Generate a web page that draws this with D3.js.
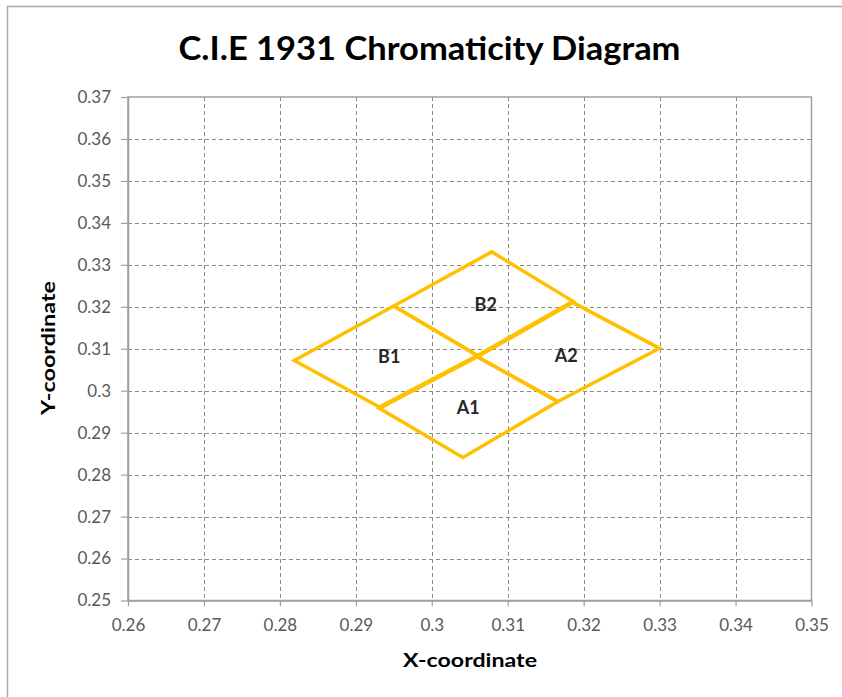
<!DOCTYPE html>
<html><head><meta charset="utf-8">
<script src="https://cdn.jsdelivr.net/npm/d3@7"></script>
<style>body{margin:0;background:#fff;} svg{display:block;}</style>
</head><body><svg id="c" width="842" height="697"></svg>
<script>
const title = "C.I.E 1931 Chromaticity Diagram";
const xLabel = "X-coordinate";
const yLabel = "Y-coordinate";
const xTicks = [0.26, 0.27, 0.28, 0.29, 0.30, 0.31, 0.32, 0.33, 0.34, 0.35];
const xTickLabels = ["0.26", "0.27", "0.28", "0.29", "0.3", "0.31", "0.32", "0.33", "0.34", "0.35"];
const yTicks = [0.25, 0.26, 0.27, 0.28, 0.29, 0.30, 0.31, 0.32, 0.33, 0.34, 0.35, 0.36, 0.37];
const yTickLabels = ["0.25", "0.26", "0.27", "0.28", "0.29", "0.3", "0.31", "0.32", "0.33", "0.34", "0.35", "0.36", "0.37"];

// bin quadrangles (x and y of the four corners)
const binNames = ["A1", "A2", "B1", "B2"];
const binXs = [
  [0.2931, 0.3060, 0.3166, 0.3041],
  [0.3060, 0.3186, 0.3300, 0.3166],
  [0.2819, 0.2950, 0.3060, 0.2931],
  [0.2950, 0.3079, 0.3186, 0.3060]
];
const binYs = [
  [0.2958, 0.3081, 0.2974, 0.2841],
  [0.3081, 0.3210, 0.3101, 0.2974],
  [0.3072, 0.3202, 0.3084, 0.2961],
  [0.3202, 0.3331, 0.3213, 0.3084]
];
const labelXs = [0.3048, 0.3177, 0.2944, 0.3071];
const labelYs = [0.2959, 0.3083, 0.3080, 0.3204];

const svg = d3.select("#c");
const W = 842, H = 697;
const L = 128, R = 811.5, T = 97, B = 600.5;
const x = d3.scaleLinear().domain([0.26, 0.35]).range([L, R]);
const y = d3.scaleLinear().domain([0.25, 0.37]).range([B, T]);
const font = "Lato, 'Open Sans', sans-serif";
const lineCol = "#FFC000";

svg.append("rect").attr("width", W).attr("height", H).attr("fill", "#fff");
svg.append("rect").attr("x", 7.5).attr("y", 6.5).attr("width", 845).attr("height", 710)
  .attr("fill", "none").attr("stroke", "#a9a9a9").attr("stroke-width", 1.5);

// title
svg.append("text").attr("x", 429.5).attr("y", 60).attr("text-anchor", "middle")
  .attr("font-family", font).attr("font-weight", "bold").attr("font-size", 33)
  .attr("textLength", 502).attr("lengthAdjust", "spacingAndGlyphs")
  .attr("fill", "#000").text(title);

// gridlines
const g = svg.append("g");
g.selectAll("line.vg").data(xTicks.slice(1, -1)).join("line")
  .attr("x1", d => Math.round(x(d)) + 0.5).attr("x2", d => Math.round(x(d)) + 0.5)
  .attr("y1", T).attr("y2", B)
  .attr("stroke", "#8a8a8a").attr("stroke-width", 1).attr("stroke-dasharray", "4,3");
g.selectAll("line.hg").data(yTicks.slice(1, -1)).join("line")
  .attr("y1", d => Math.round(y(d)) + 0.5).attr("y2", d => Math.round(y(d)) + 0.5)
  .attr("x1", L).attr("x2", R)
  .attr("stroke", "#8a8a8a").attr("stroke-width", 1).attr("stroke-dasharray", "4,3");

// plot border
svg.append("rect").attr("x", L).attr("y", T).attr("width", R - L).attr("height", B - T)
  .attr("fill", "none").attr("stroke", "#a0a0a0").attr("stroke-width", 1.5);

// axes
const xAxis = d3.axisBottom(x).tickValues(xTicks).tickFormat((d, i) => xTickLabels[i])
  .tickSizeInner(6).tickSizeOuter(0).tickPadding(12);
const yAxis = d3.axisLeft(y).tickValues(yTicks).tickFormat((d, i) => yTickLabels[i])
  .tickSizeInner(7).tickSizeOuter(0).tickPadding(10);
const gx = svg.append("g").attr("transform", `translate(0,${B})`).call(xAxis);
const gy = svg.append("g").attr("transform", `translate(${L},0)`).call(yAxis);
[gx, gy].forEach(a => {
  a.select(".domain").attr("stroke", "#a0a0a0").attr("stroke-width", 1.5);
  a.selectAll(".tick line").attr("stroke", "#a0a0a0").attr("stroke-width", 1.2);
  a.selectAll(".tick text").attr("font-family", font).attr("font-size", 17).attr("fill", "#595959");
});

// axis titles
svg.append("text").attr("x", 470).attr("y", 667).attr("text-anchor", "middle")
  .attr("font-family", font).attr("font-weight", "bold").attr("font-size", 19)
  .attr("textLength", 134).attr("lengthAdjust", "spacingAndGlyphs")
  .attr("fill", "#000").text(xLabel);
svg.append("text").attr("transform", `translate(55,348) rotate(-90)`)
  .attr("text-anchor", "middle")
  .attr("font-family", font).attr("font-weight", "bold").attr("font-size", 19)
  .attr("textLength", 134).attr("lengthAdjust", "spacingAndGlyphs")
  .attr("fill", "#000").text(yLabel);

// bins
const line = d3.line().x(d => x(d[0])).y(d => y(d[1])).curve(d3.curveLinearClosed);
const bins = binNames.map((n, i) => ({ name: n, pts: binXs[i].map((v, j) => [v, binYs[i][j]]) }));
svg.append("g").selectAll("path").data(bins).join("path")
  .attr("d", d => line(d.pts)).attr("fill", "none")
  .attr("stroke", lineCol).attr("stroke-width", 3.5).attr("stroke-linejoin", "miter");

svg.append("g").selectAll("text").data(binNames).join("text")
  .attr("x", (d, i) => x(labelXs[i])).attr("y", (d, i) => y(labelYs[i]) + 6)
  .attr("text-anchor", "middle")
  .attr("font-family", font).attr("font-weight", "bold").attr("font-size", 18)
  .attr("fill", "#262626").text(d => d);
</script></body></html>
